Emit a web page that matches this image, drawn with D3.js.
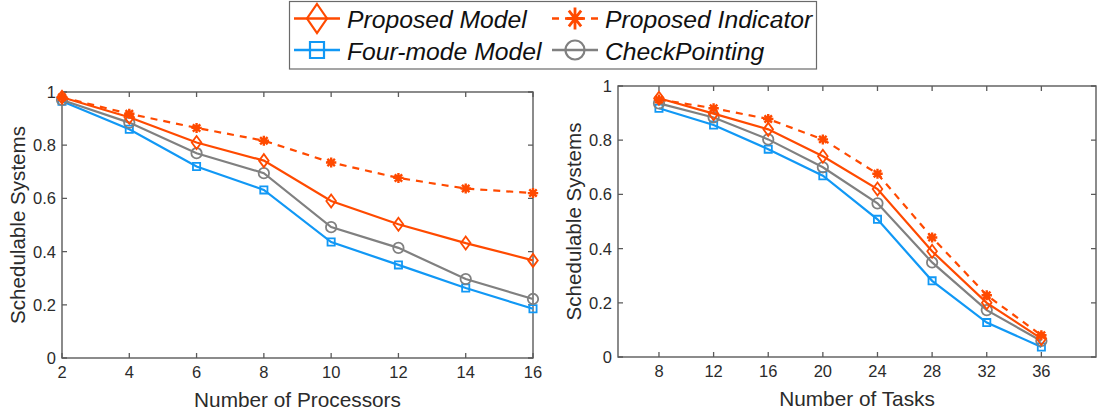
<!DOCTYPE html>
<html>
<head>
<meta charset="utf-8">
<script src="https://cdn.jsdelivr.net/npm/d3@7"></script>
<style>
  body { margin: 0; background: #fff; }
  svg { display: block; font-family: 'Liberation Sans', Arial, sans-serif; }
</style>
</head>
<body>
<svg id="chart"></svg>
<script>
const WIDTH = 1097;
const HEIGHT = 416;

// Left panel: schedulability vs number of processors.
const processors = [2, 4, 6, 8, 10, 12, 14, 16];
const procProposedModel = [0.98, 0.905, 0.81, 0.742, 0.59, 0.503, 0.432, 0.367];
const procProposedIndicator = [0.98, 0.918, 0.865, 0.817, 0.735, 0.677, 0.637, 0.62];
const procFourMode = [0.965, 0.86, 0.72, 0.632, 0.436, 0.35, 0.263, 0.185];
const procCheckPointing = [0.97, 0.885, 0.77, 0.695, 0.492, 0.414, 0.297, 0.222];

// Right panel: schedulability vs number of tasks.
const tasks = [8, 12, 16, 20, 24, 28, 32, 36];
const taskProposedModel = [0.955, 0.898, 0.84, 0.741, 0.62, 0.39, 0.2, 0.068];
const taskProposedIndicator = [0.95, 0.918, 0.878, 0.803, 0.676, 0.441, 0.228, 0.08];
const taskFourMode = [0.918, 0.856, 0.767, 0.669, 0.508, 0.281, 0.127, 0.037];
const taskCheckPointing = [0.936, 0.884, 0.803, 0.70, 0.567, 0.349, 0.173, 0.059];

const yTicks = [0, 0.2, 0.4, 0.6, 0.8, 1];
const procTicks = [2, 4, 6, 8, 10, 12, 14, 16];
const taskTicks = [8, 12, 16, 20, 24, 28, 32, 36];

const ORANGE = '#ff4a00';
const BLUE = '#1198f5';
const GRAY = '#808080';
const AXIS = '#5a5a5a';
const TEXT = '#2b2b2b';

const seriesStyle = [
  {name: 'Proposed Model', color: ORANGE, marker: 'diamond', dash: null},
  {name: 'Proposed Indicator', color: ORANGE, marker: 'star', dash: '7,6'},
  {name: 'Four-mode Model', color: BLUE, marker: 'square', dash: null},
  {name: 'CheckPointing', color: GRAY, marker: 'circle', dash: null}
];

const svg = d3.select('#chart')
  .attr('width', WIDTH)
  .attr('height', HEIGHT)
  .attr('viewBox', `0 0 ${WIDTH} ${HEIGHT}`);

// Marker path centred at 0,0; sx / sy are the half width / half height.
function markerPath(type, sx, sy) {
  if (type === 'diamond') {
    return `M0,${-sy}L${sx},0L0,${sy}L${-sx},0Z`;
  }
  if (type === 'square') {
    return `M${-sx},${-sy}H${sx}V${sy}H${-sx}Z`;
  }
  if (type === 'circle') {
    return `M${sx},0A${sx},${sy} 0 1,1 ${-sx},0A${sx},${sy} 0 1,1 ${sx},0Z`;
  }
  // asterisk: plus + cross
  const dx = sx * 0.72, dy = sy * 0.72;
  return `M${-sx},0H${sx}M0,${-sy}V${sy}M${-dx},${-dy}L${dx},${dy}M${-dx},${dy}L${dx},${-dy}`;
}

const plotMarker = {
  diamond: [4.8, 6.5], square: [3.6, 3.6], circle: [5.2, 5.2], star: [5.2, 5]
};
const legendMarker = {
  diamond: [10, 14.5], square: [7, 8], circle: [9.5, 9.5], star: [8.5, 11]
};

function drawPanel(opts) {
  const {xDomain, xRange, yRange, xs, series, xTicks, xLabel, yLabelX} = opts;
  const x = d3.scaleLinear().domain(xDomain).range(xRange);
  const y = d3.scaleLinear().domain([0, 1]).range(yRange);
  const g = svg.append('g');

  // Box
  g.append('rect')
    .attr('x', xRange[0]).attr('y', yRange[1])
    .attr('width', xRange[1] - xRange[0])
    .attr('height', yRange[0] - yRange[1])
    .attr('fill', 'none')
    .attr('stroke', AXIS)
    .attr('stroke-width', 1.4);

  // Inward ticks on all four sides
  const tickLen = 5;
  g.selectAll('.xt').data(xTicks).enter().append('path')
    .attr('d', d => `M${x(d)},${yRange[0]}v${-tickLen}M${x(d)},${yRange[1]}v${tickLen}`)
    .attr('stroke', AXIS).attr('stroke-width', 1.3);
  g.selectAll('.yt').data(yTicks).enter().append('path')
    .attr('d', d => `M${xRange[0]},${y(d)}h${tickLen}M${xRange[1]},${y(d)}h${-tickLen}`)
    .attr('stroke', AXIS).attr('stroke-width', 1.3);

  // Tick labels
  g.selectAll('.xl').data(xTicks).enter().append('text')
    .attr('x', d => x(d)).attr('y', yRange[0] + 20)
    .attr('text-anchor', 'middle')
    .attr('font-size', 16.5).attr('fill', TEXT)
    .text(d => d);
  g.selectAll('.yl').data(yTicks).enter().append('text')
    .attr('x', xRange[0] - 6).attr('y', d => y(d) + 6)
    .attr('text-anchor', 'end')
    .attr('font-size', 16.5).attr('fill', TEXT)
    .text(d => d3.format('~g')(d));

  // Axis titles
  g.append('text')
    .attr('x', (xRange[0] + xRange[1]) / 2).attr('y', yRange[0] + 49)
    .attr('text-anchor', 'middle')
    .attr('font-size', 20.8).attr('fill', TEXT)
    .text(xLabel);
  g.append('text')
    .attr('transform', `translate(${yLabelX},${(yRange[0] + yRange[1]) / 2}) rotate(-90)`)
    .attr('text-anchor', 'middle')
    .attr('font-size', 20.6).attr('fill', TEXT)
    .text('Schedulable Systems');

  const line = d3.line().x((d, i) => x(xs[i])).y(d => y(d));

  // Back-to-front: four-mode, checkpointing, indicator, proposed
  const order = [2, 3, 1, 0];
  for (const k of order) {
    const st = seriesStyle[k];
    const vals = series[k];
    const [sx, sy] = plotMarker[st.marker];
    g.append('path')
      .datum(vals)
      .attr('d', line)
      .attr('fill', 'none')
      .attr('stroke', st.color)
      .attr('stroke-width', 2.2)
      .attr('stroke-dasharray', st.dash);
    g.selectAll(null).data(vals).enter().append('path')
      .attr('transform', (d, i) => `translate(${x(xs[i])},${y(d)})`)
      .attr('d', markerPath(st.marker, sx, sy))
      .attr('fill', 'none')
      .attr('stroke', st.color)
      .attr('stroke-width', st.marker === 'star' ? 2.4 : 1.8);
  }
}

drawPanel({
  xDomain: [2, 16],
  xRange: [62, 533],
  yRange: [358, 92],
  xs: processors,
  series: [procProposedModel, procProposedIndicator, procFourMode, procCheckPointing],
  xTicks: procTicks,
  xLabel: 'Number of Processors',
  yLabelX: 25
});

drawPanel({
  xDomain: [5, 40],
  xRange: [618, 1096],
  yRange: [357, 86],
  xs: tasks,
  series: [taskProposedModel, taskProposedIndicator, taskFourMode, taskCheckPointing],
  xTicks: taskTicks,
  xLabel: 'Number of Tasks',
  yLabelX: 581
});

// Legend
const legend = svg.append('g');
legend.append('rect')
  .attr('x', 289.5).attr('y', 1.5)
  .attr('width', 527).attr('height', 67.5)
  .attr('fill', '#fff')
  .attr('stroke', '#6a6a6a')
  .attr('stroke-width', 1.2);

const legendPos = [
  {x: 294, y: 18.5, tx: 347},
  {x: 552, y: 18.5, tx: 605},
  {x: 294, y: 50, tx: 347},
  {x: 552, y: 50, tx: 605}
];

seriesStyle.forEach((st, i) => {
  const p = legendPos[i];
  const [sx, sy] = legendMarker[st.marker];
  const lg = legend.append('g').attr('transform', `translate(${p.x},${p.y})`);
  lg.append('path')
    .attr('d', 'M0,0H46')
    .attr('stroke', st.color)
    .attr('stroke-width', 2.4)
    .attr('stroke-dasharray', st.dash);
  lg.append('path')
    .attr('transform', 'translate(23,0)')
    .attr('d', markerPath(st.marker, sx, sy))
    .attr('fill', 'none')
    .attr('stroke', st.color)
    .attr('stroke-width', st.marker === 'star' ? 2.8 : 2.2);
  lg.append('text')
    .attr('x', p.tx - p.x).attr('y', 9.5)
    .attr('font-size', 24.7)
    .attr('font-style', 'italic')
    .attr('fill', '#111')
    .text(st.name);
});
</script>
</body>
</html>
